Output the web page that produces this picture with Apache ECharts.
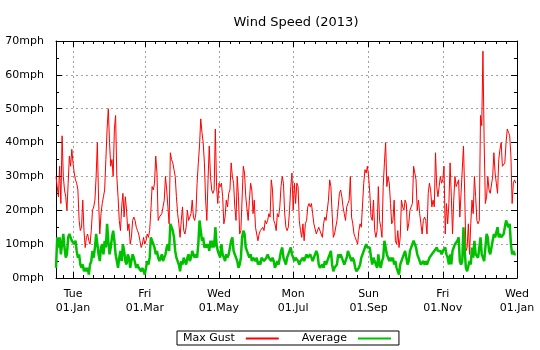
<!DOCTYPE html>
<html><head><meta charset="utf-8">
<script src="https://cdn.jsdelivr.net/npm/echarts@6/dist/echarts.min.js"></script>
<style>html,body{margin:0;padding:0;background:#fff}#c{width:540px;height:350px}</style>
</head><body><div id="c"></div>
<script>
// first day of the series (axis starts here) and number of days on the axis
const startDate = [2012, 11, 18];
const dayCount = 380;

// daily maximum gust (mph), from 18 Dec 2012
const maxGust = [
30,27,24,33,22,42,30,26,24,20,
28,36,33,38,34,31,29,28,26,17,
14,15,23,14,9,12,13,11,10,14,
20,21,23,30,40,23,13,19,22,24,
26,35,44,50,40,33,35,30,44,48,
30,24,17,14,21,25,18,24,20,14,
16,10,12,17,18,17,15,14,13,11,
9,10,12,10,11,13,12,14,20,27,
26,28,36,31,17,18,18,19,21,23,
30,26,21,16,37,35,34,32,30,24,
19,16,12,17,21,14,13,15,20,17,
18,19,23,18,17,19,28,34,39,47,
43,40,34,23,17,29,39,30,26,25,
26,44,27,22,28,27,28,24,16,18,
23,21,25,26,34,30,28,21,17,30,
24,13,14,14,33,31,24,24,17,23,
28,26,19,23,15,15,11,13,14,14,
15,14,17,16,17,19,18,29,26,17,
16,14,19,18,21,27,30,28,19,15,
14,15,20,27,31,20,28,22,28,27,
17,14,12,16,11,16,17,21,22,21,
22,19,16,16,13,13,15,14,14,12,
16,18,17,17,23,29,27,19,12,13,
13,17,21,25,26,24,21,19,17,21,
22,23,30,18,16,13,12,11,10,14,
16,15,15,28,32,31,33,30,25,18,
17,23,14,12,14,27,17,15,12,27,
34,40,27,30,28,22,16,17,23,11,
10,14,9,12,23,21,20,23,22,14,
16,20,21,22,33,31,29,20,23,19,
16,13,17,18,17,13,25,28,26,21,
23,21,37,27,24,27,30,28,29,33,
13,22,16,22,34,24,13,23,30,27,
27,29,18,25,25,39,25,8,9,16,
7,16,23,19,30,24,17,16,17,48,
45,67,40,22,24,30,26,25,25,30,
37,31,28,25,35,38,40,33,33,34,
40,44,43,42,36,22,28,29,28
];

// daily average wind speed (mph), from 18 Dec 2012
const average = [
3,12,9,12,7,10,13,9,6,7,
12,13,12,11,11,10,11,8,6,7,
4,3,4,2,3,2,3,1,4,5,
8,6,9,13,10,7,5,9,10,7,
11,9,16,11,7,9,12,14,11,7,
5,3,6,8,5,10,8,5,4,7,
6,3,5,7,6,6,3,4,3,3,
2,3,2,1,3,5,4,6,12,11,
11,9,7,8,6,5,6,7,5,6,
7,9,10,8,16,15,14,12,8,6,
5,4,2,5,4,6,5,4,6,7,
5,6,8,7,6,7,6,10,17,14,
11,12,9,10,9,10,8,11,9,11,
9,15,10,8,7,6,10,7,6,5,
7,6,7,7,11,12,8,7,6,5,
3,4,6,12,14,13,9,8,7,6,
7,5,6,6,5,6,4,5,4,6,
6,5,5,6,7,6,6,5,6,5,
3,4,5,4,6,8,9,6,5,4,
6,7,8,9,7,6,5,6,6,5,
4,5,5,6,5,6,7,6,6,7,
6,5,6,7,8,7,4,3,3,4,
3,5,4,5,6,7,8,4,2,3,
3,4,7,6,7,6,5,4,5,6,
8,7,7,5,6,5,3,2,2,3,
4,6,7,7,9,10,9,9,9,6,
4,6,5,4,3,7,4,3,5,6,
11,9,7,6,5,6,5,6,4,5,
3,2,1,4,4,6,7,8,6,4,
5,8,9,9,11,10,9,7,6,5,
4,4,5,4,5,4,5,6,6,7,
7,8,8,9,8,8,8,7,8,8,
9,7,6,4,7,4,8,9,10,10,
11,12,5,4,5,15,8,3,2,2,
5,4,9,6,11,7,7,6,9,12,
7,6,5,9,13,12,8,7,9,11,
13,12,12,15,12,13,12,12,13,15,
17,16,15,16,10,7,8,7,7
];

// x tick positions and their labels
const tickDates = ['2013-01-01','2013-03-01','2013-05-01','2013-07-01','2013-09-01','2013-11-01','2014-01-01'];
const tickLabels = ['Tue\n01.Jan','Fri\n01.Mar','Wed\n01.May','Mon\n01.Jul','Sun\n01.Sep','Fri\n01.Nov','Wed\n01.Jan'];
// y axis
const yMin = 0, yMax = 70, yStep = 10, yUnit = 'mph';

const FONT = 'DejaVu Sans';
function pad(n){ return (n < 10 ? '0' : '') + n; }
const days = [];
for (let i = 0; i < dayCount; i++) {
  const d = new Date(Date.UTC(startDate[0], startDate[1], startDate[2] + i));
  days.push(d.getUTCFullYear() + '-' + pad(d.getUTCMonth() + 1) + '-' + pad(d.getUTCDate()));
}
const labelMap = {};
tickDates.forEach((d, i) => { labelMap[d] = tickLabels[i]; });
const majorIdx = tickDates.map(d => days.indexOf(d));
const majorSet = new Set(majorIdx);
const minorSet = new Set();
for (let j = 0; j + 1 < majorIdx.length; j++) {
  const a = majorIdx[j], b = majorIdx[j + 1];
  for (let k = 1; k < 7; k++) minorSet.add(Math.round(a + k * (b - a) / 7));
}
minorSet.add(Math.round(majorIdx[0] - (majorIdx[1] - majorIdx[0]) / 7));

const gridLine = { color: '#a0a0a0', width: 1, type: [2, 3] };
function xAx(position, major) {
  return {
    type: 'category', data: days, boundaryGap: false, position: position,
    axisLine: { show: major, lineStyle: { color: '#000', width: 1 } },
    axisTick: { show: true, inside: true, length: major ? 6 : 3, lineStyle: { color: '#000' },
      interval: major ? (i) => majorSet.has(i) : (i) => minorSet.has(i) },
    axisLabel: { show: major && position === 'bottom',
      interval: (i) => majorSet.has(i),
      formatter: (v) => labelMap[v] || '',
      color: '#000', fontSize: 11, fontFamily: FONT, lineHeight: 14, margin: 9 },
    splitLine: { show: major && position === 'bottom', interval: (i) => majorSet.has(i), lineStyle: gridLine }
  };
}
function yAx(position) {
  const left = position === 'left';
  return {
    type: 'value', min: yMin, max: yMax, interval: yStep, position: position,
    axisLine: { show: true, lineStyle: { color: '#000', width: 1 } },
    axisTick: { show: true, inside: true, length: 6, lineStyle: { color: '#000' } },
    minorTick: { show: true, splitNumber: 2, length: 3, lineStyle: { color: '#000' } },
    axisLabel: { show: left, formatter: '{value}' + yUnit, color: '#000', fontSize: 11, fontFamily: FONT, margin: 12 },
    splitLine: { show: left, lineStyle: gridLine }
  };
}

const chart = echarts.init(document.getElementById('c'), null, { renderer: 'canvas' });
chart.setOption({
  animation: false,
  backgroundColor: '#fff',
  title: { text: 'Wind Speed (2013)', left: 291, top: 11, textAlign: 'center',
    textStyle: { fontSize: 13, fontWeight: 'normal', color: '#000', fontFamily: FONT } },
  grid: { left: 56, right: 23, top: 41, bottom: 72, containLabel: false },
  xAxis: [xAx('bottom', true), xAx('bottom', false), xAx('top', true), xAx('top', false)],
  yAxis: [yAx('left'), yAx('right')],
  legend: {
    data: ['Max Gust', 'Average'], left: 177, top: 331, orient: 'horizontal', align: 'right',
    itemWidth: 33, itemHeight: 10, itemGap: 22, padding: [2, 7, 1, 6],
    borderColor: '#000', borderWidth: 1, borderRadius: 0,
    itemStyle: { opacity: 0 },
    textStyle: { fontSize: 11, fontFamily: FONT, color: '#000', padding: [0, 6, 0, 0] }
  },
  series: [
    { name: 'Max Gust', type: 'line', xAxisIndex: 0, yAxisIndex: 0, data: maxGust,
      symbol: 'none', showSymbol: false, lineStyle: { color: '#ff0000', width: 1 }, itemStyle: { color: '#ff0000' } },
    { name: 'Average', type: 'line', xAxisIndex: 0, yAxisIndex: 0, data: average,
      symbol: 'none', showSymbol: false, lineStyle: { color: '#00c000', width: 2.5 }, itemStyle: { color: '#00c000' } }
  ]
});
</script></body></html>
